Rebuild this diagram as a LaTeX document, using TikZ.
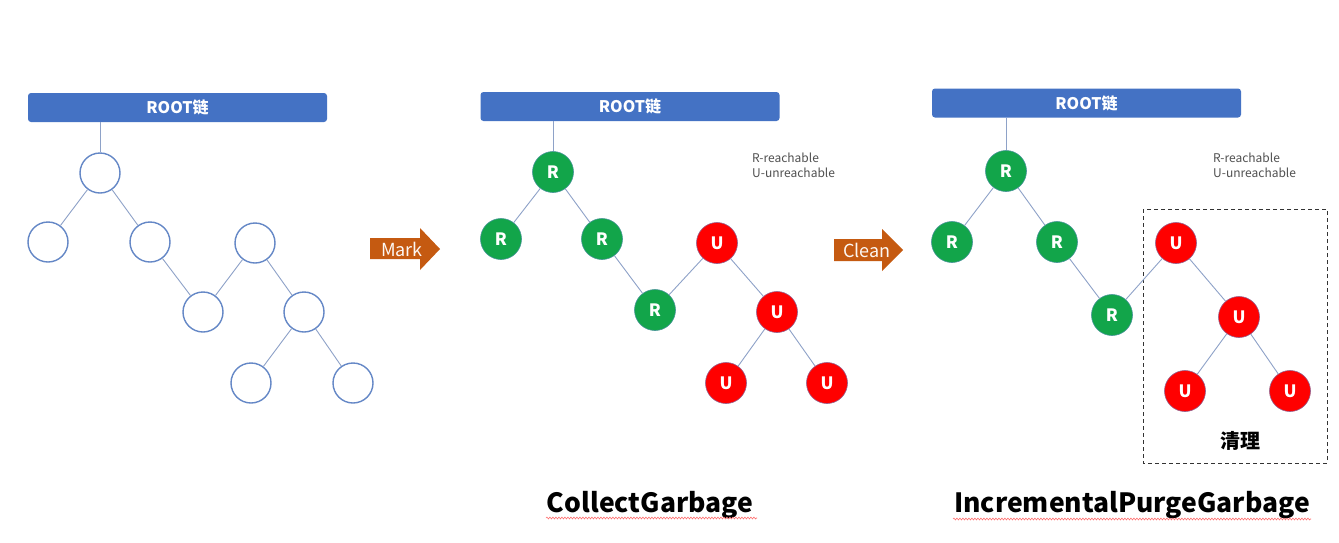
\documentclass[tikz,border=0pt]{standalone}
\usepackage{fontspec}
\setmainfont{Noto Sans CJK SC}
\usetikzlibrary{decorations.pathmorphing}
\definecolor{barblue}{HTML}{4472C4}
\definecolor{edgec}{HTML}{8EA2C8}
\definecolor{ringc}{HTML}{6487C6}
\definecolor{gnode}{HTML}{12A54A}
\definecolor{rnode}{HTML}{FF0000}
\definecolor{arrowc}{HTML}{C55A11}
\definecolor{legc}{HTML}{505050}
\definecolor{squig}{HTML}{FF7070}
\tikzset{
  rootbar/.style={fill=barblue, rounded corners=3pt, minimum width=299pt, minimum height=29pt, inner sep=0pt, text=white, font=\bfseries\fontsize{16}{18}\selectfont},
  empty/.style={circle, draw=ringc, line width=1.4pt, minimum size=40pt, inner sep=0pt},
  rn/.style={circle, fill=gnode, draw=ringc!60!gnode, line width=0.6pt, minimum size=41pt, inner sep=0pt, text=white, font=\bfseries\fontsize{17}{19}\selectfont},
  un/.style={circle, fill=rnode, draw=ringc!70!rnode, line width=0.6pt, minimum size=41pt, inner sep=0pt, text=white, font=\bfseries\fontsize{17}{19}\selectfont},
  link/.style={draw=edgec, line width=0.9pt},
  legend/.style={anchor=west, inner sep=0pt, text=legc, font=\fontsize{12}{15}\selectfont, align=left},
  arrowlabel/.style={inner sep=0pt, text=white!95!arrowc, font=\fontsize{18}{20}\selectfont},
  bigtitle/.style={inner sep=0pt, font=\bfseries\fontsize{26.5}{30}\selectfont},
  wavy/.style={draw=squig, line width=0.6pt, decorate, decoration={snake, amplitude=0.9pt, segment length=3pt}}
}
\begin{document}
\begin{tikzpicture}[x=1pt, y=-1pt]
\useasboundingbox (0,0) rectangle (1339,542);
\fill[white] (0,0) rectangle (1339,542);

% ---------- Panel 1 ----------
\node[rootbar] (bar1) at (177.5,107.5) {ROOT链};
\node[empty] (a1) at (100,173) {};
\node[empty] (b1) at (48,242) {};
\node[empty] (c1) at (150,242) {};
\node[empty] (d1) at (255,243) {};
\node[empty] (e1) at (203,312) {};
\node[empty] (f1) at (304,312) {};
\node[empty] (g1) at (251,383) {};
\node[empty] (h1) at (353,383) {};
\draw[link] (a1 |- bar1.south) -- (a1);
\draw[link] (a1) -- (b1);
\draw[link] (a1) -- (c1);
\draw[link] (c1) -- (e1);
\draw[link] (e1) -- (d1);
\draw[link] (d1) -- (f1);
\draw[link] (f1) -- (g1);
\draw[link] (f1) -- (h1);

% ---------- Mark arrow ----------
\fill[arrowc] (370,238) -- (420,238) -- (420,228) -- (440,249) -- (420,270) -- (420,259) -- (370,259) -- cycle;
\node[arrowlabel] (mark) at (402,249.5) {Mark};

% ---------- Panel 2 ----------
\node[rootbar] (bar2) at (630,106.5) {ROOT链};
\node[rn] (r21) at (553,172) {R};
\node[rn] (r22) at (501,239) {R};
\node[rn] (r23) at (602,239) {R};
\node[un] (u21) at (717,243) {U};
\node[rn] (r24) at (655,310) {R};
\node[un] (u22) at (777,312) {U};
\node[un] (u23) at (726,383) {U};
\node[un] (u24) at (827,383) {U};
\draw[link] (r21 |- bar2.south) -- (r21);
\draw[link] (r21) -- (r22);
\draw[link] (r21) -- (r23);
\draw[link] (r23) -- (r24);
\draw[link] (r24) -- (u21);
\draw[link] (u21) -- (u22);
\draw[link] (u22) -- (u23);
\draw[link] (u22) -- (u24);
\node[legend] (leg2) at (752,165.5) {R-reachable\\U-unreachable};

% ---------- Clean arrow ----------
\fill[arrowc] (834,239) -- (882,239) -- (882,229) -- (903,250) -- (882,271) -- (882,261) -- (834,261) -- cycle;
\node[arrowlabel] (clean) at (867,250) {Clean};

% ---------- Panel 3 ----------
\node[rootbar, minimum width=309pt] (bar3) at (1086.5,103) {ROOT链};
\node[rn] (r31) at (1006,171) {R};
\node[rn] (r32) at (952,242) {R};
\node[rn] (r33) at (1057,242) {R};
\node[un] (u31) at (1176,243) {U};
\node[rn] (r34) at (1112,315) {R};
\node[un] (u32) at (1239,317) {U};
\node[un] (u33) at (1185,391) {U};
\node[un] (u34) at (1290,391) {U};
\draw[dashed, draw=black!80, line width=1pt, dash pattern=on 4pt off 3pt] (1143,209) rectangle (1327,463);
\draw[link] (r31 |- bar3.south) -- (r31);
\draw[link] (r31) -- (r32);
\draw[link] (r31) -- (r33);
\draw[link] (r33) -- (r34);
\draw[link] (r34) -- (u31);
\draw[link] (u31) -- (u32);
\draw[link] (u32) -- (u33);
\draw[link] (u32) -- (u34);
\node[legend] (leg3) at (1213,165) {R-reachable\\U-unreachable};
\node[inner sep=0pt, font=\bfseries\fontsize{20}{22}\selectfont] (qingli) at (1240,441) {清理};

% ---------- Titles ----------
\node[bigtitle] (t2) at (650,505) {CollectGarbage};
\node[bigtitle] (t3) at (1132,505) {IncrementalPurgeGarbage};
\draw[wavy] (546,518) -- (757,518);
\draw[wavy] (953,519) -- (1311,519);
\end{tikzpicture}
\end{document}
